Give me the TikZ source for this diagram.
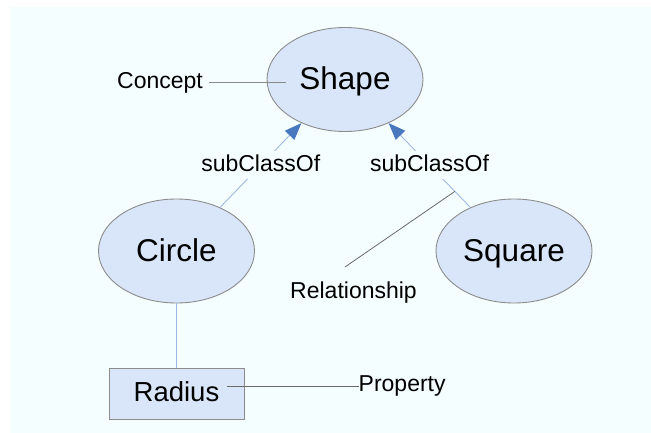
\documentclass[tikz,border=0pt]{standalone}
\usepackage{fontspec}
\setmainfont{Liberation Sans}
\usetikzlibrary{shapes.geometric,arrows.meta}
\definecolor{bg}{HTML}{F5FEFE}
\definecolor{nodefill}{HTML}{D9E6FA}
\definecolor{nodedraw}{HTML}{8C8C8C}
\definecolor{linkblue}{HTML}{A0B8E4}
\definecolor{tipblue}{HTML}{4A78BF}
\definecolor{callout}{HTML}{6A6A6A}
\definecolor{calloutlight}{HTML}{8A8A8A}
\begin{document}
\begin{tikzpicture}[x=1pt,y=-1pt,
  concept/.style={ellipse, draw=nodedraw, fill=nodefill, line width=0.9pt,
    minimum width=156pt, minimum height=104pt, inner sep=0pt,
    text height=20pt, text depth=0pt, font=\fontsize{31.5}{36}\selectfont},
  propbox/.style={rectangle, draw=nodedraw, fill=nodefill, line width=0.9pt,
    minimum width=135pt, minimum height=51pt, inner sep=0pt,
    text height=15pt, text depth=0pt, font=\fontsize{27.5}{32}\selectfont},
  note/.style={font=\fontsize{23}{27}\selectfont, inner sep=0pt, anchor=base},
  relname/.style={font=\fontsize{23}{27}\selectfont, fill=bg, inner sep=5.5pt,
    text height=15.2pt, text depth=1.8pt},
  subclass/.style={draw=linkblue, line width=0.9pt,
    -{Triangle[length=17pt,width=13pt,fill=tipblue,color=tipblue]}},
  bluelink/.style={draw=linkblue, line width=0.9pt},
  pointer/.style={draw=callout, line width=0.8pt},
  pointerlight/.style={draw=calloutlight, line width=0.8pt}
]
% canvas
\useasboundingbox (0,0) rectangle (651,433);
\fill[white] (0,0) rectangle (651,433);
\fill[bg] (10.5,7.5) rectangle (651,433);

% nodes
\node[concept] (Shape) at (345,79.5) {Shape};
\node[concept] (Circle) at (176.5,251) {Circle};
\node[concept] (Square) at (514,251) {Square};
\node[propbox] (Radius) at (176.5,393.5) {Radius};

\node[note, inner xsep=6pt] (Concept) at (160,88.3) {Concept};
\node[note] (Relationship) at (353.5,298.5) {Relationship};
\node[note, anchor=base west] (Property) at (358.5,391.7) {Property};

% subClassOf relations
\draw[subclass] (Circle.45) -- node[relname] {subClassOf} (Shape.-135);
\draw[subclass] (Square.135) -- coordinate[pos=0.19] (relHit)
   node[relname] {subClassOf} (Shape.-45);

% property link
\draw[bluelink] (Circle.south) -- (Radius.north);

% callouts
\coordinate (conceptEnd) at ([xshift=19pt]Shape.west);
\draw[pointerlight] (Concept.east) -- (conceptEnd |- Concept.east);
\coordinate (relTail) at (345,267);
\draw[pointer] (relTail) -- (relHit);
\coordinate (propStart) at ([xshift=-17pt]Radius.east);
\draw[pointer] (propStart |- Property.west) -- (Property.west);
\end{tikzpicture}
\end{document}
